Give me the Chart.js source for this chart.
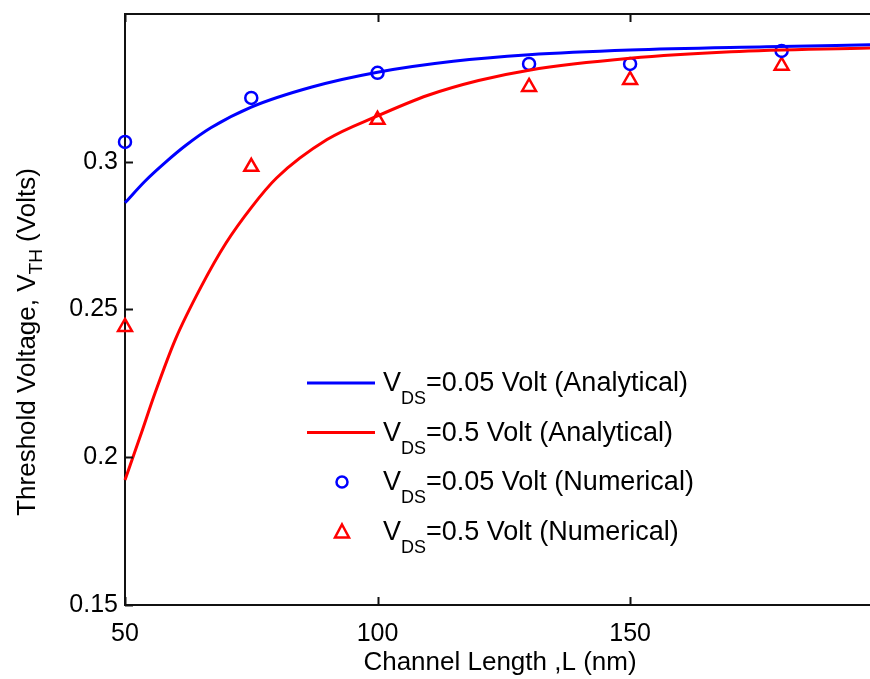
<!DOCTYPE html>
<html>
<head>
<meta charset="utf-8">
<script src="https://cdn.jsdelivr.net/npm/chart.js@4"></script>
<style>
  html, body { margin: 0; padding: 0; background: #fff; }
  #wrap { width: 870px; height: 679px; }
</style>
</head>
<body>
<div id="wrap"><canvas id="chart" width="870" height="679"></canvas></div>
<script>
// channel length (nm) for the numerical points
const lengthsNum = [50, 75, 100, 130, 150, 180];
const vthNum005 = [0.3067, 0.3216, 0.3301, 0.3331, 0.3331, 0.3375];
const vthNum05 = [0.2441, 0.2983, 0.3142, 0.3253, 0.3277, 0.3325];

// analytical curves
const lengthsA005 = [50, 54, 58, 62, 67, 75, 87, 100, 115, 130, 150, 177, 197.5];
const vthA005 = [0.2861, 0.2935, 0.2998, 0.3055, 0.3115, 0.3185, 0.3253, 0.3303, 0.3340, 0.3362, 0.3378, 0.3389, 0.3396];
const lengthsA05 = [50, 53, 56, 60, 65, 70, 75, 80, 90, 100, 110, 120, 130, 150, 170, 197.5];
const vthA05 = [0.1923, 0.2070, 0.2220, 0.2400, 0.2575, 0.2725, 0.2845, 0.2945, 0.3075, 0.3155, 0.3225, 0.3275, 0.3310, 0.3350, 0.3372, 0.3385];

const xTicks = [50, 100, 150];
const yTicks = [0.15, 0.2, 0.25, 0.3];

const legendLabels = ["=0.05 Volt (Analytical)", "=0.5 Volt (Analytical)", "=0.05 Volt (Numerical)", "=0.5 Volt (Numerical)"];

const FONT = "'Liberation Sans', Arial, sans-serif";
const BLUE = "rgb(0,0,255)";
const RED = "rgb(255,0,0)";

const pts = (xs, ys) => xs.map((x, i) => ({ x: x, y: ys[i] }));

// frame, inward ticks, axis titles and legend (MATLAB look)
const matlabDecor = {
  id: "matlabDecor",
  afterDatasetsDraw(chart) {
    const ctx = chart.ctx;
    const area = chart.chartArea;
    const xs = chart.scales.x, ys = chart.scales.y;
    ctx.save();
    ctx.strokeStyle = "#111";
    ctx.lineWidth = 2;
    ctx.beginPath();
    ctx.moveTo(area.left, area.top);
    ctx.lineTo(area.right, area.top);
    ctx.stroke();
    xTicks.forEach(v => {
      const px = Math.round(xs.getPixelForValue(v)) + 0.5;
      ctx.beginPath();
      ctx.moveTo(px, area.bottom); ctx.lineTo(px, area.bottom - 8);
      ctx.moveTo(px, area.top); ctx.lineTo(px, area.top + 8);
      ctx.stroke();
    });
    yTicks.forEach(v => {
      const py = Math.round(ys.getPixelForValue(v)) + 0.5;
      ctx.beginPath();
      ctx.moveTo(area.left, py); ctx.lineTo(area.left + 8, py);
      ctx.stroke();
    });

    // x title
    ctx.fillStyle = "#000";
    ctx.font = "26px " + FONT;
    ctx.textAlign = "center";
    ctx.textBaseline = "middle";
    ctx.fillText("Channel Length ,L (nm)", 500, 663);

    // y title with subscript
    const parts = [["Threshold Voltage, V", 26, 0], ["TH", 19, 9], [" (Volts)", 26, 0]];
    let total = 0;
    parts.forEach(p => { ctx.font = p[1] + "px " + FONT; total += ctx.measureText(p[0]).width; });
    ctx.translate(28, 342);
    ctx.rotate(-Math.PI / 2);
    ctx.textAlign = "left";
    ctx.textBaseline = "middle";
    let cx = -total / 2;
    parts.forEach(p => {
      ctx.font = p[1] + "px " + FONT;
      ctx.fillText(p[0], cx, p[2]);
      cx += ctx.measureText(p[0]).width;
    });
    ctx.setTransform(1, 0, 0, 1, 0, 0);

    // legend
    chart.data.datasets.forEach((ds, i) => {
      const ry = 383 + i * 49.5;
      ctx.strokeStyle = ds.borderColor;
      if (ds.showLine !== false) {
        ctx.lineWidth = ds.borderWidth;
        ctx.beginPath();
        ctx.moveTo(307, ry); ctx.lineTo(375, ry);
        ctx.stroke();
      } else {
        ctx.lineWidth = ds.pointBorderWidth;
        ctx.beginPath();
        if (ds.pointStyle === "circle") {
          ctx.arc(342, ry, 5.5, 0, Math.PI * 2);
        } else {
          ctx.moveTo(342, ry - 7); ctx.lineTo(349, ry + 6); ctx.lineTo(335, ry + 6); ctx.closePath();
        }
        ctx.stroke();
      }
      ctx.fillStyle = "#000";
      ctx.textAlign = "left";
      ctx.textBaseline = "alphabetic";
      ctx.font = "27px " + FONT;
      ctx.fillText("V", 383, ry + 8);
      let tx = 383 + ctx.measureText("V").width;
      ctx.font = "18px " + FONT;
      ctx.fillText("DS", tx, ry + 21);
      tx += ctx.measureText("DS").width;
      ctx.font = "27px " + FONT;
      ctx.fillText(legendLabels[i], tx, ry + 8);
    });
    ctx.restore();
  }
};

new Chart(document.getElementById("chart"), {
  type: "line",
  data: {
    datasets: [
      { data: pts(lengthsA005, vthA005), borderColor: BLUE, borderWidth: 3, pointRadius: 0, cubicInterpolationMode: "monotone", fill: false },
      { data: pts(lengthsA05, vthA05), borderColor: RED, borderWidth: 3, pointRadius: 0, cubicInterpolationMode: "monotone", fill: false },
      { data: pts(lengthsNum, vthNum005), showLine: false, borderColor: BLUE, backgroundColor: "rgba(0,0,0,0)",
        pointStyle: "circle", pointRadius: 6, pointBorderWidth: 2.5, pointBorderColor: BLUE, pointBackgroundColor: "rgba(0,0,0,0)" },
      { data: pts(lengthsNum, vthNum05), showLine: false, borderColor: RED, backgroundColor: "rgba(0,0,0,0)",
        pointStyle: "triangle", pointRadius: 8, pointBorderWidth: 2.5, pointBorderColor: RED, pointBackgroundColor: "rgba(0,0,0,0)" }
    ]
  },
  options: {
    responsive: false,
    animation: false,
    clip: false,
    layout: { autoPadding: false, padding: { left: 0, right: 0, top: 14, bottom: 0 } },
    plugins: { legend: { display: false }, tooltip: { enabled: false } },
    scales: {
      x: {
        type: "linear",
        min: 50, max: 197.5,
        afterBuildTicks: s => { s.ticks = xTicks.map(v => ({ value: v })); },
        afterFit: s => { s.height = 74; s.paddingLeft = 0; s.paddingRight = 0; },
        grid: { display: false, drawTicks: false },
        border: { display: true, color: "#111", width: 2 },
        ticks: { color: "#000", font: { family: FONT, size: 25 }, padding: 14, maxRotation: 0 }
      },
      y: {
        min: 0.15, max: 0.35,
        afterBuildTicks: s => { s.ticks = yTicks.map(v => ({ value: v })); },
        afterFit: s => { s.width = 125; s.paddingTop = 0; s.paddingBottom = 0; },
        grid: { display: false, drawTicks: false },
        border: { display: true, color: "#111", width: 2 },
        ticks: { color: "#000", font: { family: FONT, size: 25 }, padding: 7, callback: v => String(v) }
      }
    }
  },
  plugins: [matlabDecor]
});
</script>
</body>
</html>
